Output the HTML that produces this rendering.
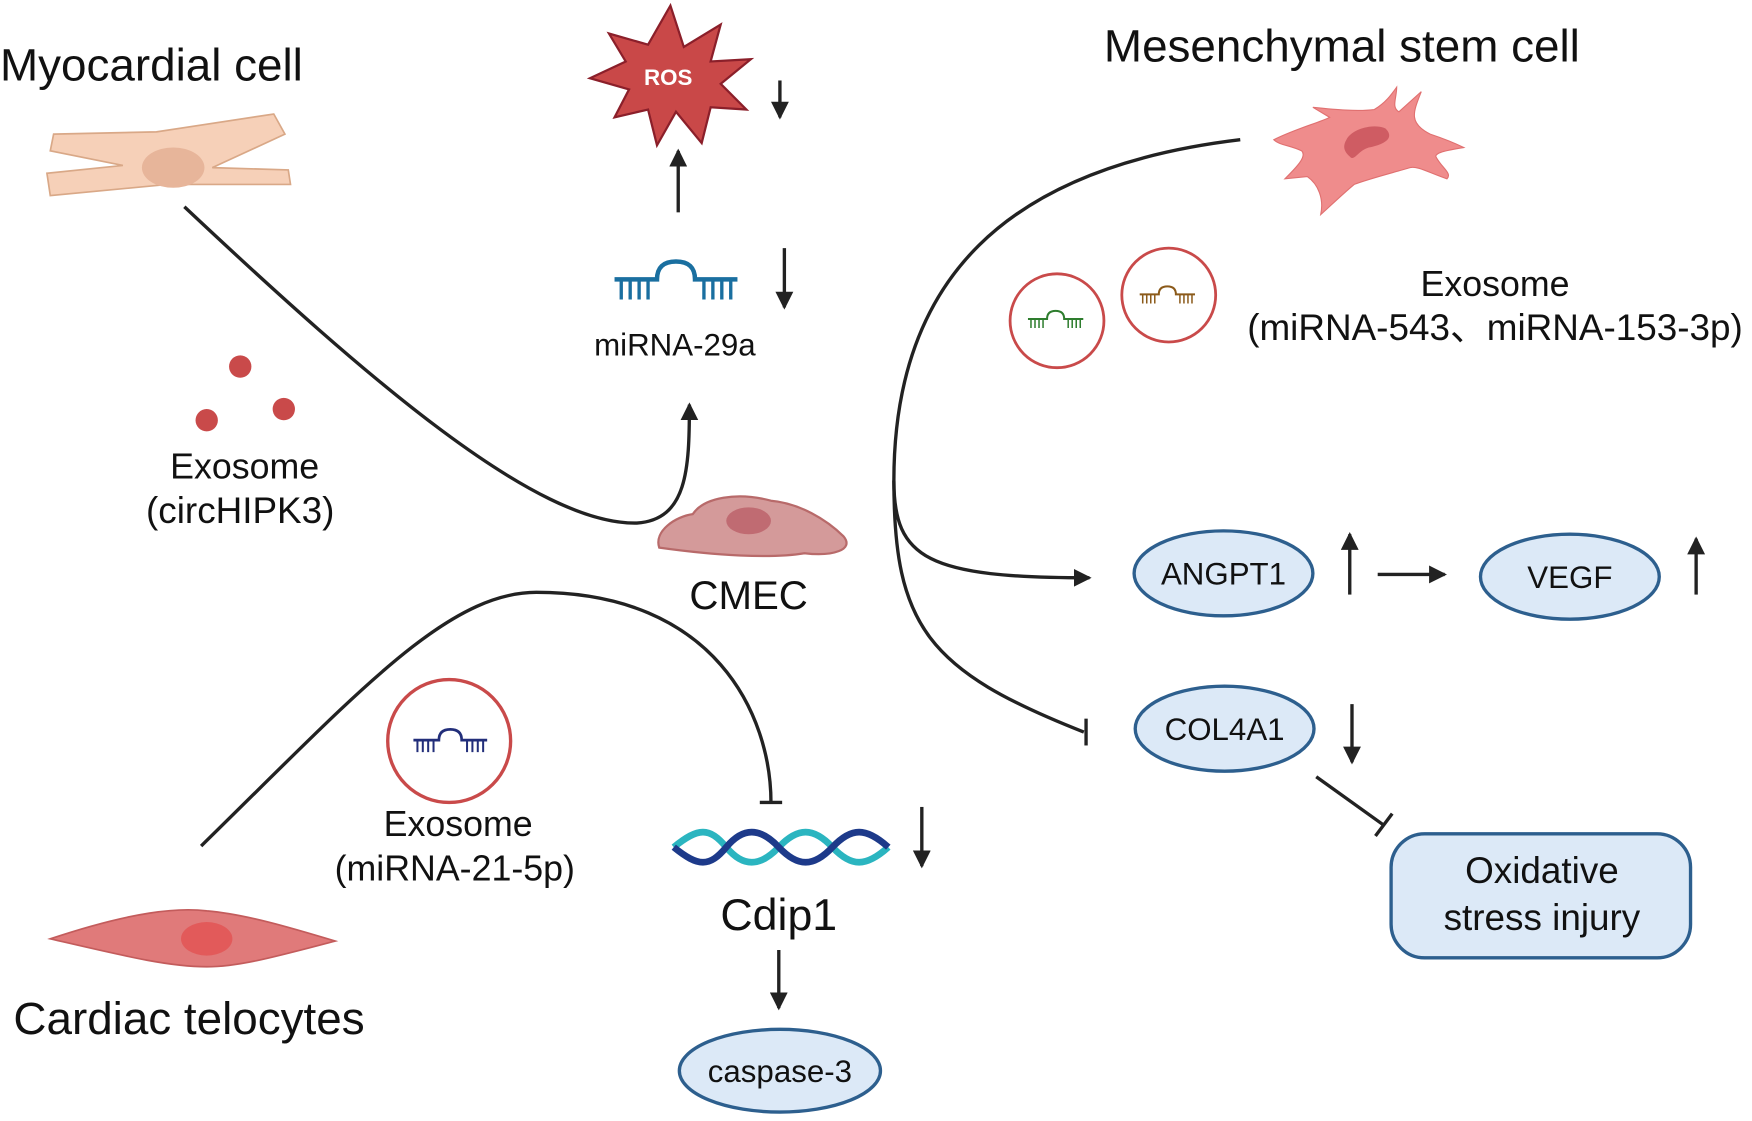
<!DOCTYPE html>
<html><head><meta charset="utf-8"><style>
html,body{margin:0;padding:0;background:#fff;}
svg{display:block;}
text{font-family:"Liberation Sans","Noto Sans CJK SC",sans-serif;fill:#111;}
</style></head><body>
<svg width="1752" height="1121" viewBox="0 0 1568 1003" preserveAspectRatio="none" xmlns="http://www.w3.org/2000/svg">
<defs>
<marker id="ah2" markerWidth="16" markerHeight="16" refX="14" refY="8" orient="auto" markerUnits="userSpaceOnUse" viewBox="0 0 16 16"><path d="M0,0 L16,8 L0,16 z" fill="#222"/></marker>
<g id="mir"><path d="M0,12 H38 Q38,-4 55,-4 Q72,-4 72,12 H110" fill="none" stroke="currentColor" stroke-width="4"/>
<path d="M6,12v18M14,12v18M22,12v18M30,12v18M80,12v18M88,12v18M96,12v18M104,12v18" stroke="currentColor" stroke-width="3"/></g>
</defs>
<g stroke="#222" stroke-width="3" fill="none">
<path d="M165,185 C330,340 480,470 570,468 C615,465 617,420 617,362" marker-end="url(#ah2)"/>
<path d="M180,757 C320,620 400,530 480,530 C640,530 690,640 690,718"/>
<path d="M680,718 H700"/>
<path d="M1110,125 C900,150 800,250 800,430 C800,500 830,517 975,517" marker-end="url(#ah2)"/>
<path d="M800,430 C800,560 830,600 970,655"/>
<path d="M972,643 V667"/>
<path d="M1178,695 L1238,738"/>
<path d="M1231,748 L1246,728"/>
<path d="M698,72 V105" marker-end="url(#ah2)"/>
<path d="M607,190 V135" marker-end="url(#ah2)"/>
<path d="M702,222 V275" marker-end="url(#ah2)"/>
<path d="M825,722 V775" marker-end="url(#ah2)"/>
<path d="M697,850 V902" marker-end="url(#ah2)"/>
<path d="M1208,532 V478" marker-end="url(#ah2)"/>
<path d="M1233,514 H1293" marker-end="url(#ah2)"/>
<path d="M1518,532 V482" marker-end="url(#ah2)"/>
<path d="M1210,630 V682" marker-end="url(#ah2)"/>
</g>
<!-- myocyte -->
<path d="M48,120 L140,118 L245,102 L255,120 L190,150 L258,152 L260,165 L150,165 L45,175 L42,155 L110,148 L45,135 Z" fill="#f6d0b8" stroke="#d9a887" stroke-width="1.5"/>
<ellipse cx="155" cy="150" rx="28" ry="18" fill="#e7b59a"/>
<text x="0" y="72" font-size="41">Myocardial cell</text>
<circle cx="215" cy="328" r="10" fill="#c94a4a"/><circle cx="185" cy="376" r="10" fill="#c94a4a"/><circle cx="254" cy="366" r="10" fill="#c94a4a"/>
<text x="219" y="428" font-size="32" text-anchor="middle">Exosome</text>
<text x="215" y="468" font-size="33" text-anchor="middle">(circHIPK3)</text>
<!-- ROS -->
<polygon points="600,5 612,42 645,22 636,55 672,53 645,75 668,98 636,96 628,128 605,100 588,130 580,98 550,105 563,80 528,70 560,55 545,30 580,40" fill="#c94848" stroke="#8b1f2a" stroke-width="2"/>
<text x="598" y="76" font-size="20" font-weight="bold" text-anchor="middle" style="fill:#fff">ROS</text>
<g color="#1a6fa0" transform="translate(550,238)"><use href="#mir"/></g>
<text x="604" y="318" font-size="28" text-anchor="middle">miRNA-29a</text>
<!-- CMEC -->
<path d="M590,490 C585,475 605,462 620,460 C630,445 660,440 690,448 C715,450 740,465 755,480 C765,492 745,498 720,495 C690,500 640,497 590,490 Z" fill="#d49a9a" stroke="#b86a6a" stroke-width="2"/>
<ellipse cx="670" cy="466" rx="20" ry="12" fill="#c06b72"/>
<text x="670" y="545" font-size="36" text-anchor="middle">CMEC</text>
<!-- exosome 21-5p -->
<circle cx="402" cy="663" r="55" fill="none" stroke="#c94a4a" stroke-width="3"/>
<g color="#222e7a" transform="translate(370,655) scale(0.6)"><use href="#mir"/></g>
<text x="410" y="748" font-size="32" text-anchor="middle">Exosome</text>
<text x="407" y="788" font-size="32" text-anchor="middle">(miRNA-21-5p)</text>
<!-- DNA -->
<path d="M603,758 C625,740 635,740 650,758 S680,776 697,758 S728,740 745,758 S775,776 795,758" fill="none" stroke="#2bb5c0" stroke-width="6"/>
<path d="M603,758 C625,776 635,776 650,758 S680,740 697,758 S728,776 745,758 S775,740 795,758" fill="none" stroke="#1d3a8a" stroke-width="6"/>
<text x="697" y="832" font-size="40" text-anchor="middle">Cdip1</text>
<ellipse cx="698" cy="958" rx="90" ry="37" fill="#dce9f7" stroke="#2d5f8e" stroke-width="3"/>
<text x="698" y="968" font-size="28" text-anchor="middle">caspase-3</text>
<!-- telocyte -->
<path d="M45,840 C120,815 160,812 185,815 C220,818 260,830 300,842 C250,855 215,865 185,865 C150,865 110,855 45,840 Z" fill="#e07a7a" stroke="#c35c5c" stroke-width="1.5"/>
<ellipse cx="185" cy="840" rx="23" ry="15" fill="#e25a5a"/>
<text x="12" y="925" font-size="41">Cardiac telocytes</text>
<!-- MSC -->
<text x="988" y="55" font-size="41">Mesenchymal stem cell</text>
<path d="M1140,125 C1160,115 1180,110 1190,105 L1175,96 C1195,98 1215,100 1230,98 C1240,92 1245,85 1250,78 C1250,88 1245,96 1252,100 L1272,82 C1265,100 1260,110 1280,120 C1292,124 1302,128 1310,132 C1298,134 1285,136 1285,140 C1290,150 1300,155 1295,160 C1280,155 1268,148 1262,150 C1245,155 1225,160 1212,165 C1200,175 1190,185 1182,192 C1185,178 1180,165 1170,158 L1150,160 C1160,150 1170,140 1165,135 C1155,130 1145,130 1140,125 Z" fill="#ef8c8c" stroke="#e07070" stroke-width="1"/>
<path d="M1205,125 C1210,115 1230,110 1240,115 C1250,125 1235,130 1225,132 C1215,135 1212,145 1208,140 C1202,135 1202,130 1205,125 Z" fill="#cf5c63"/>
<circle cx="946" cy="287" r="42" fill="none" stroke="#c94a4a" stroke-width="2.5"/>
<g color="#2e7d2e" transform="translate(920,280) scale(0.45)"><use href="#mir"/></g>
<circle cx="1046" cy="264" r="42" fill="none" stroke="#c94a4a" stroke-width="2.5"/>
<g color="#8b5a1a" transform="translate(1020,258) scale(0.45)"><use href="#mir"/></g>
<text x="1338" y="265" font-size="32" text-anchor="middle">Exosome</text>
<text x="1338" y="304" font-size="33" text-anchor="middle">(miRNA-543、miRNA-153-3p)</text>
<ellipse cx="1095" cy="513" rx="80" ry="38" fill="#dce9f7" stroke="#2d5f8e" stroke-width="3"/>
<text x="1095" y="523" font-size="28" text-anchor="middle">ANGPT1</text>
<ellipse cx="1405" cy="516" rx="80" ry="38" fill="#dce9f7" stroke="#2d5f8e" stroke-width="3"/>
<text x="1405" y="526" font-size="28" text-anchor="middle">VEGF</text>
<ellipse cx="1096" cy="652" rx="80" ry="38" fill="#dce9f7" stroke="#2d5f8e" stroke-width="3"/>
<text x="1096" y="662" font-size="28" text-anchor="middle">COL4A1</text>
<rect x="1245" y="746" width="268" height="111" rx="30" fill="#dce9f7" stroke="#2d5f8e" stroke-width="3"/>
<text x="1380" y="790" font-size="33" text-anchor="middle">Oxidative</text>
<text x="1380" y="832" font-size="33" text-anchor="middle">stress injury</text>
</svg>
</body></html>
